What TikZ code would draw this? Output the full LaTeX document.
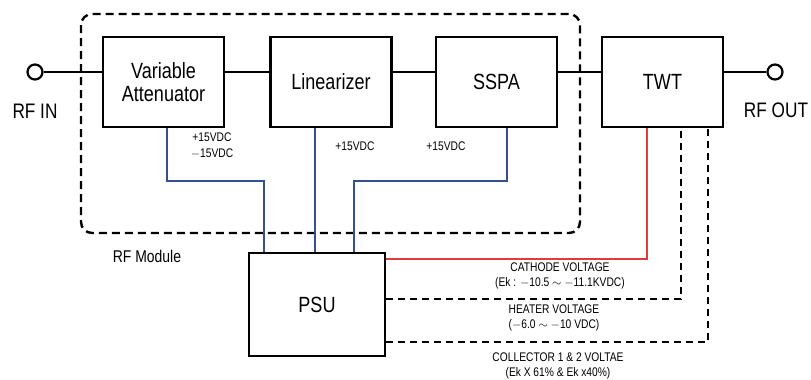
\documentclass[tikz,border=0pt]{standalone}
\usepackage{fontspec}
\setmainfont{Liberation Sans}[FakeStretch=0.82]
\definecolor{wireblue}{HTML}{34508F}
\definecolor{wirered}{HTML}{E23B3B}
\begin{document}
\begin{tikzpicture}[x=1pt,y=-1pt,
  blk/.style={draw,line width=2.2pt,minimum width=121pt,minimum height=90pt,inner sep=0pt,align=center,font=\fontsize{22}{25}\selectfont},
  port/.style={draw,circle,line width=2.2pt,minimum size=15pt,inner sep=0pt},
  rfline/.style={line width=2pt},
  bluewire/.style={draw=wireblue,line width=1.4pt},
  redwire/.style={draw=wirered,line width=1.4pt},
  dwire/.style={line width=1.4pt,dash pattern=on 7pt off 5pt},
  moddash/.style={line width=2.4pt,dash pattern=on 8pt off 5pt,rounded corners=11pt},
  small/.style={font=\fontsize{12.5}{14.5}\selectfont,align=center,inner sep=0pt},
  big/.style={font=\fontsize{21}{24}\selectfont,inner sep=0pt}]
\useasboundingbox (0,0) rectangle (811,380);
% RF module boundary
\draw[moddash] (81,14) rectangle (580,233);
% blocks
\node[blk] (va) at (163.5,82) {Variable\\[-2pt]Attenuator};
\node[blk] (lin) at (331,82) {Linearizer};
\node[blk] (sspa) at (496.5,82) {SSPA};
\node[blk] (twt) at (662.5,82) {TWT};
\node[blk,minimum width=136pt,minimum height=103pt] (psu) at (317,304.5) {PSU};
% ports
\node[port] (in) at (35,72) {};
\node[port] (out) at (775,72) {};
\node[big] (inl) at (35,111) {RF IN};
\node[big] (outl) at (776,110) {RF OUT};
% RF chain
\draw[rfline] (in.east) -- (in -| va.west);
\draw[rfline] ([yshift=10pt]va.east) -- ([yshift=10pt]lin.west);
\draw[rfline] ([yshift=10pt]lin.east) -- ([yshift=10pt]sspa.west);
\draw[rfline] ([yshift=10pt]sspa.east) -- ([yshift=10pt]twt.west);
\draw[rfline] ([yshift=10pt]twt.east) -- (out.west);
% DC supply lines
\draw[bluewire] ([xshift=3.5pt]va.south) -- ++(0,53) -| ([xshift=-53pt]psu.north);
\draw[bluewire] ([xshift=-16pt]lin.south) -- ([xshift=-16pt]lin.south |- psu.north);
\draw[bluewire] ([xshift=10.5pt]sspa.south) -- ++(0,53) -| ([xshift=37pt]psu.north);
% TWT supply lines
\draw[redwire] ([yshift=-7pt]psu.north east) -| ([xshift=-15.5pt]twt.south);
\draw[dwire] ([yshift=-47pt]psu.north east) -| ([xshift=18.5pt]twt.south);
\draw[dwire] ([yshift=15pt]psu.south east) -| ([xshift=45.5pt]twt.south);
% labels
\node[small] (l1) at (212,145.5) {+15VDC\\[1pt]$-$15VDC};
\node[small] (l2) at (355,146) {+15VDC};
\node[small] (l3) at (446,146) {+15VDC};
\node[font=\fontsize{17}{20}\selectfont,inner sep=0pt] (mod) at (147,256) {RF Module};
\node[small] (cath) at (560,276) {CATHODE VOLTAGE\\[1pt](Ek : $-$10.5 $\sim$ $-$11.1KVDC)};
\node[small] (heat) at (554,318) {HEATER VOLTAGE\\[1pt]($-$6.0 $\sim$ $-$10 VDC)};
\node[small] (coll) at (558,366) {COLLECTOR 1 \& 2 VOLTAE\\[1pt](Ek X 61\% \& Ek x40\%)};
\end{tikzpicture}
\end{document}
